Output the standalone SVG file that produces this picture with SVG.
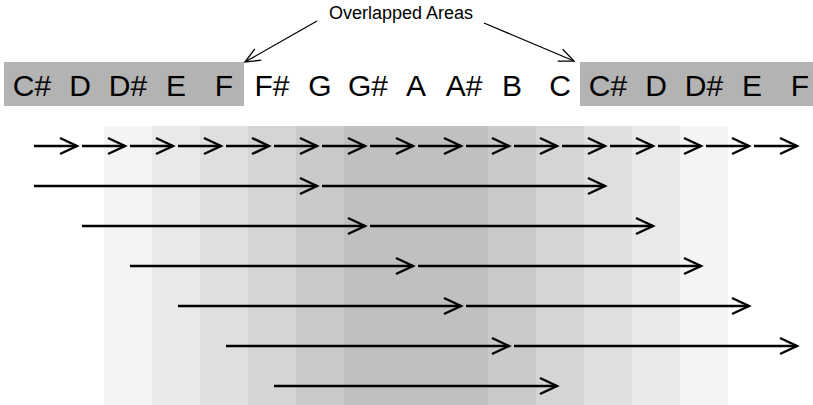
<svg xmlns="http://www.w3.org/2000/svg" width="813" height="405" viewBox="0 0 813 405">
  <defs>
    <marker id="chev" markerUnits="userSpaceOnUse" markerWidth="40" markerHeight="40" refX="0" refY="0" viewBox="-20 -20 40 40" orient="auto" overflow="visible">
      <path d="M-17,-8 L0,0 L-17,8" fill="none" stroke="#000" stroke-width="2.4" stroke-linejoin="miter"/>
    </marker>
    <marker id="thin" markerUnits="userSpaceOnUse" markerWidth="40" markerHeight="40" refX="0" refY="0" viewBox="-20 -20 40 40" orient="auto" overflow="visible">
      <path d="M-15,-6.5 L0,0 L-15,6.5" fill="none" stroke="#000" stroke-width="1.3"/>
    </marker>
  </defs>
  <style>
    .note { font-family: "Liberation Sans", Arial, Helvetica, sans-serif; font-size: 30px; fill: #000; text-anchor: middle; }
    .lbl { font-family: "Liberation Sans", Arial, Helvetica, sans-serif; font-size: 18px; fill: #000; text-anchor: middle; }
    .arr { stroke: #000; stroke-width: 2.4; fill: none; marker-end: url(#chev); }
    .tarr { stroke: #000; stroke-width: 1.3; fill: none; marker-end: url(#thin); }
    .bar { fill: #b3b3b3; }
  </style>
  <rect width="813" height="405" fill="#fff"/>

  <g id="shading">
    <rect x="104" y="126" width="48" height="279" fill="#f4f4f4"/>
    <rect x="152" y="126" width="48" height="279" fill="#e9e9e9"/>
    <rect x="200" y="126" width="48" height="279" fill="#dfdfdf"/>
    <rect x="248" y="126" width="48" height="279" fill="#d5d5d5"/>
    <rect x="296" y="126" width="48" height="279" fill="#cacaca"/>
    <rect x="344" y="126" width="144" height="279" fill="#c0c0c0"/>
    <rect x="488" y="126" width="48" height="279" fill="#cacaca"/>
    <rect x="536" y="126" width="48" height="279" fill="#d5d5d5"/>
    <rect x="584" y="126" width="48" height="279" fill="#dfdfdf"/>
    <rect x="632" y="126" width="48" height="279" fill="#e9e9e9"/>
    <rect x="680" y="126" width="48" height="279" fill="#f4f4f4"/>
  </g>

  <g id="overlap-left-bar"><rect class="bar" x="4" y="62" width="240" height="44"/></g>
  <g id="overlap-right-bar"><rect class="bar" x="580" y="62" width="240" height="44"/></g>

  <g id="notes">
    <g id="n0"><text class="note" x="32" y="96">C#</text></g>
    <g id="n1"><text class="note" x="80" y="96">D</text></g>
    <g id="n2"><text class="note" x="128" y="96">D#</text></g>
    <g id="n3"><text class="note" x="176" y="96">E</text></g>
    <g id="n4"><text class="note" x="224" y="96">F</text></g>
    <g id="n5"><text class="note" x="272" y="96">F#</text></g>
    <g id="n6"><text class="note" x="320" y="96">G</text></g>
    <g id="n7"><text class="note" x="368" y="96">G#</text></g>
    <g id="n8"><text class="note" x="416" y="96">A</text></g>
    <g id="n9"><text class="note" x="464" y="96">A#</text></g>
    <g id="n10"><text class="note" x="512" y="96">B</text></g>
    <g id="n11"><text class="note" x="560" y="96">C</text></g>
    <g id="n12"><text class="note" x="608" y="96">C#</text></g>
    <g id="n13"><text class="note" x="656" y="96">D</text></g>
    <g id="n14"><text class="note" x="704" y="96">D#</text></g>
    <g id="n15"><text class="note" x="752" y="96">E</text></g>
    <g id="n16"><text class="note" x="800" y="96">F</text></g>
  </g>

  <g id="label"><text class="lbl" x="401" y="19">Overlapped Areas</text></g>

  <g id="connectors">
    <line class="tarr" x1="317" y1="21" x2="245" y2="62"/>
    <line class="tarr" x1="484" y1="23" x2="574" y2="61"/>

    <line class="arr" x1="34" y1="146" x2="77" y2="146"/>
    <line class="arr" x1="82" y1="146" x2="125" y2="146"/>
    <line class="arr" x1="130" y1="146" x2="173" y2="146"/>
    <line class="arr" x1="178" y1="146" x2="221" y2="146"/>
    <line class="arr" x1="226" y1="146" x2="269" y2="146"/>
    <line class="arr" x1="274" y1="146" x2="317" y2="146"/>
    <line class="arr" x1="322" y1="146" x2="365" y2="146"/>
    <line class="arr" x1="370" y1="146" x2="413" y2="146"/>
    <line class="arr" x1="418" y1="146" x2="461" y2="146"/>
    <line class="arr" x1="466" y1="146" x2="509" y2="146"/>
    <line class="arr" x1="514" y1="146" x2="557" y2="146"/>
    <line class="arr" x1="562" y1="146" x2="605" y2="146"/>
    <line class="arr" x1="610" y1="146" x2="653" y2="146"/>
    <line class="arr" x1="658" y1="146" x2="701" y2="146"/>
    <line class="arr" x1="706" y1="146" x2="749" y2="146"/>
    <line class="arr" x1="754" y1="146" x2="797" y2="146"/>

    <line class="arr" x1="34" y1="186" x2="317" y2="186"/>
    <line class="arr" x1="322" y1="186" x2="605" y2="186"/>

    <line class="arr" x1="82" y1="226" x2="365" y2="226"/>
    <line class="arr" x1="370" y1="226" x2="653" y2="226"/>

    <line class="arr" x1="130" y1="266" x2="413" y2="266"/>
    <line class="arr" x1="418" y1="266" x2="701" y2="266"/>

    <line class="arr" x1="178" y1="306" x2="461" y2="306"/>
    <line class="arr" x1="466" y1="306" x2="749" y2="306"/>

    <line class="arr" x1="226" y1="346" x2="509" y2="346"/>
    <line class="arr" x1="514" y1="346" x2="797" y2="346"/>

    <line class="arr" x1="274" y1="386" x2="557" y2="386"/>
  </g>
</svg>
